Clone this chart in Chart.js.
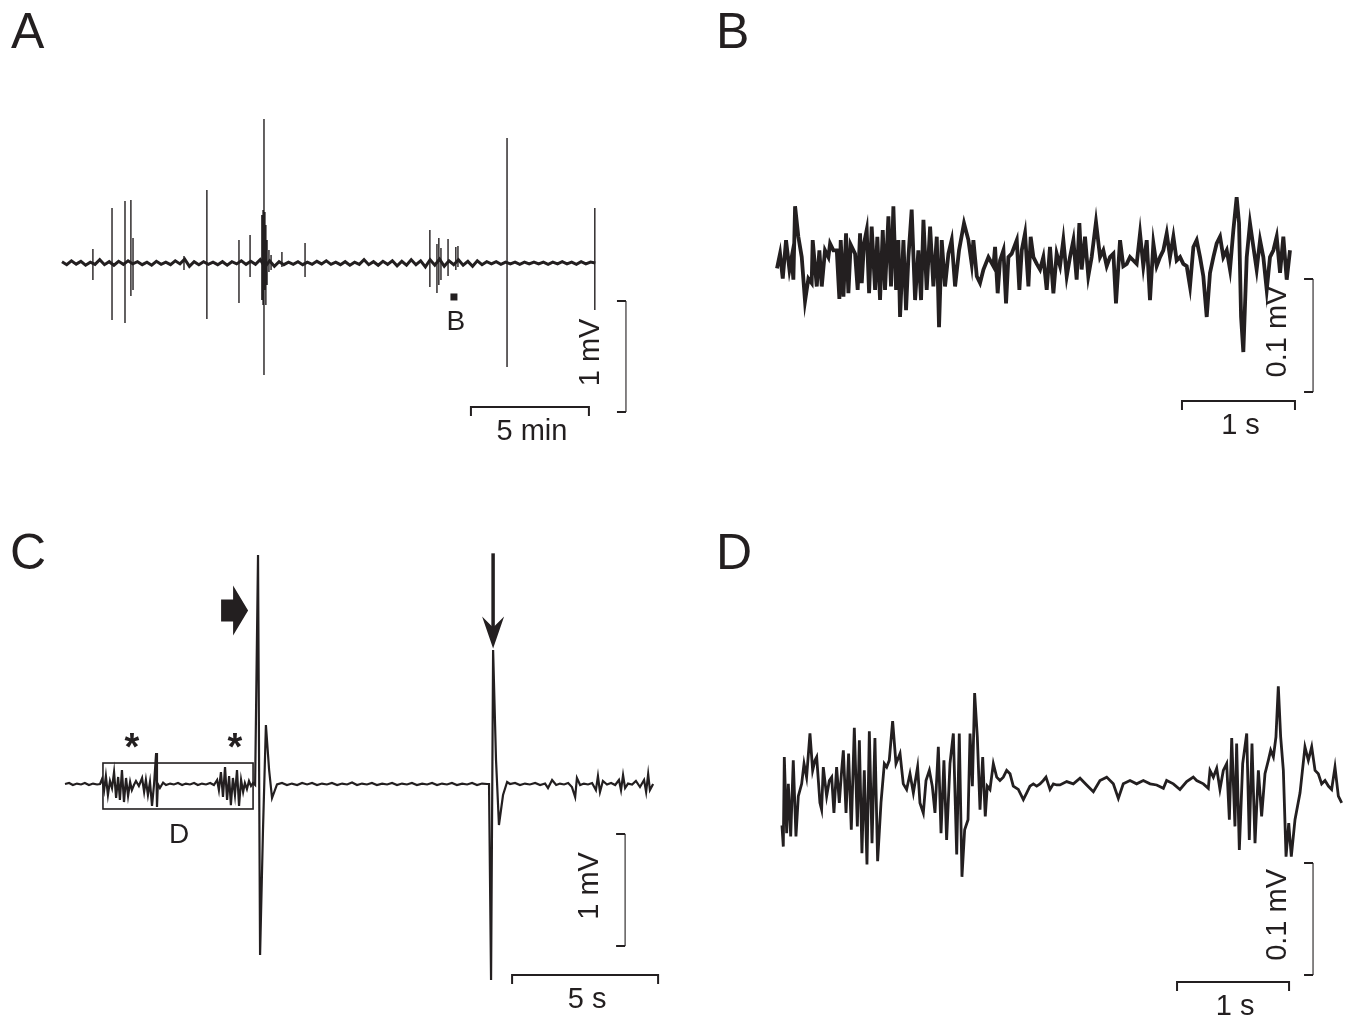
<!DOCTYPE html>
<html>
<head>
<meta charset="utf-8">
<script src="https://cdn.jsdelivr.net/npm/chart.js@4.4.1/dist/chart.umd.min.js"></script>
<style>
html,body{margin:0;padding:0;background:#fff;}
#fig{position:relative;width:1350px;height:1024px;overflow:hidden;background:#fff;font-family:"Liberation Sans",Arial,sans-serif;color:#231f20;}
#fig canvas{position:absolute;}
.letter{position:absolute;font-size:50px;line-height:50px;}
</style>
</head>
<body>
<div id="fig">
  <canvas id="cA" width="640" height="370" style="left:40px;top:90px"></canvas>
  <canvas id="cB" width="590" height="270" style="left:760px;top:180px"></canvas>
  <canvas id="cC" width="640" height="484" style="left:40px;top:540px"></canvas>
  <canvas id="cD" width="590" height="374" style="left:760px;top:650px"></canvas>
  <div class="letter" style="left:11px;top:6px">A</div>
  <div class="letter" style="left:716px;top:6px">B</div>
  <div class="letter" style="left:10px;top:527px">C</div>
  <div class="letter" style="left:716px;top:527px">D</div>
</div>
<script>
// ---------------- DATA ----------------
// Panel A: long recording (time in min, voltage in mV)
const aNoiseStep = 0.2; // min between baseline samples
const aNoise = [0.012,-0.015,0.02,-0.01,0.015,-0.02,0.008,-0.012,0.03,-0.015,
 0.012,-0.02,0.015,-0.012,0.02,-0.008,0.012,-0.015,0.008,-0.02,
 0.015,-0.012,0.008,-0.015,0.02,-0.008,0.035,-0.03,0.012,-0.015,
 0.012,-0.012,0.008,-0.015,0.012,-0.02,0.012,-0.008,0.02,-0.012,
 0.015,-0.012,0.03,-0.035,0.02,-0.03,0.012,-0.015,0.008,-0.012,
 0.012,-0.015,0.008,-0.012,0.015,-0.008,0.02,-0.012,0.008,-0.015,
 0.012,-0.02,0.008,-0.012,0.03,-0.015,0.012,-0.02,0.015,-0.012,
 0.02,-0.025,0.015,-0.02,0.03,-0.015,0.02,-0.035,0.03,-0.02,
 0.035,-0.03,0.02,-0.015,0.03,-0.02,0.015,-0.03,0.02,-0.015,
 0.012,-0.008,0.012,-0.012,0.008,-0.008,0.008,-0.012,0.008,-0.008,
 0.008,-0.008,0.008,-0.012,0.008,-0.008,0.012,-0.008,0.008,-0.012,0.012,-0.008,0.008,0.0];
const aSpikeT  = [1.31,2.12,2.67,2.92,3.01,5.17,6.14,7.50,7.97,8.47,8.52,8.56,8.60,8.64,8.69,8.77,8.86,9.32,10.30,15.59,15.89,15.97,16.06,16.36,16.69,16.78,18.86,22.58];
const aSpikeHi = [.126,.495,.559,.568,.225,.063,.658,.207,.252,.432,.477,1.297,.459,.342,.207,.117,.072,.099,.180,.297,.171,.225,.135,.216,.144,.153,1.126,.495];
const aSpikeLo = [-.153,-.514,-.541,-.297,-.243,-.063,-.505,-.360,-.126,-.333,-.378,-1.009,-.243,-.378,-.198,-.081,-.063,-.036,-.126,-.216,-.270,-.198,-.153,-.117,-.063,-.036,-.937,-.423];
const aMarkB = [16.61, -0.306]; // segment shown in B

// Panel B: 4.5 s excerpt (time in ms, voltage in µV)
const bT = [0,27,51,80,110,130,145,160,189,219,248,278,307,316,352,375,396,425,455,470,
 499,529,552,564,588,611,632,652,691,714,735,750,770,794,815,838,868,888,912,936,
 956,986,1009,1030,1054,1074,1089,1119,1142,1163,1192,1222,1251,1275,1296,1325,1355,1384,1414,1434,
 1458,1487,1517,1546,1576,1611,1655,1694,1723,1738,1768,1797,1827,1871,1915,1930,1953,1974,2004,2027,
 2048,2077,2122,2145,2166,2195,2225,2245,2269,2299,
 2328,2357,2387,2416,2446,2475,2505,2534,2564,2593,2623,2652,2676,2696,2726,2755,2785,2823,2859,2888,
 2918,2947,2977,3000,3036,3065,3095,3124,3154,3183,3213,3242,3272,3301,3331,3360,3390,3419,3449,3478,
 3508,3537,3567,3596,3626,3655,3685,3714,3744,3773,3803,3832,3862,3891,3921,3950,3980,4009,4039,4068,
 4089,4107,4127,4157,4186,4216,4245,4275,4304,4334,4363,4393,4422,4452,4481,4511,4540];
const bV = [-3,10,-12,22,-4,7,-13,52,25,7,-32,-12,-16,22,-19,13,-19,13,7,19,
 13,13,-30,22,-28,28,-25,18,10,-22,28,-16,19,31,-25,34,-22,25,-31,31,
 -22,43,-19,52,-22,22,-46,22,-40,7,49,-31,13,-31,40,-22,34,-19,25,-55,
 22,-19,10,22,-19,13,37,22,1,22,-10,-16,-4,7,-1,16,-25,4,13,-34,
 7,10,22,-22,13,28,-19,25,7,1,
 -4,7,-22,16,-25,10,-1,22,-10,7,22,-13,37,-4,25,-10,7,38,7,13,
 -1,7,10,-34,22,-1,1,7,4,1,28,-1,22,-31,19,-1,7,13,28,7,
 25,4,7,1,-1,-19,16,22,7,-10,-46,-7,7,19,25,7,13,-4,31,60,
 37,-46,-77,7,37,16,-4,22,7,-22,7,13,25,-7,25,-13,13];

// Panel C: 20 s excerpt (time in s, voltage in mV)
const cT = [0,0.14,0.27,0.41,0.55,0.68,0.82,0.96,1.10,1.20,
 1.27,1.34,1.40,1.47,1.54,1.61,1.68,1.75,1.82,1.88,
 1.95,2.02,2.09,2.16,2.23,2.29,2.36,2.43,2.53,2.64,
 2.71,2.77,2.84,2.91,2.98,3.05,3.12,3.15,3.18,3.25,
 3.36,3.46,3.60,3.73,3.87,4.01,4.14,4.28,4.42,4.55,
 4.69,4.83,4.97,5.10,5.21,5.27,5.34,5.41,5.48,5.55,
 5.62,5.68,5.75,5.82,5.89,5.96,6.03,6.10,6.16,6.23,
 6.30,6.37,6.44,6.51,6.61,6.68,6.78,6.88,6.99,7.09,
 7.26,7.43,7.60,7.77,7.95,8.12,8.29,8.46,8.63,8.80,
 8.97,9.14,9.32,9.49,9.66,9.83,10.00,10.17,10.34,10.51,
 10.68,10.86,11.03,11.20,11.37,11.54,11.71,11.88,12.05,12.23,
 12.40,12.57,12.74,12.91,13.08,13.25,13.42,13.60,13.77,13.94,
 14.11,14.28,14.45,14.52,14.59,14.66,14.76,14.86,15.00,15.14,
 15.24,15.41,15.58,15.75,15.92,16.10,16.27,16.44,16.54,16.68,
 16.82,16.95,17.09,17.23,17.36,17.47,17.53,17.64,17.77,17.91,
 18.05,18.18,18.25,18.32,18.42,18.56,18.70,18.84,18.97,19.04,
 19.11,19.18,19.28,19.42,19.55,19.69,19.83,19.90,19.97,20.03,
 20.14];
const cV = [0,.009,-.009,.004,-.004,.009,-.009,.004,-.004,0,
 .045,-.054,.071,-.098,.027,-.036,.107,-.125,.063,-.143,
 .125,-.161,.054,-.107,.018,-.054,-.009,.027,-.018,.054,
 -.071,.036,-.098,.018,-.196,0,.277,-.205,0,-.036,
 .013,-.009,.004,-.004,.009,-.009,.004,-.004,.009,-.009,
 .004,-.004,.009,-.009,.036,-.054,.107,-.116,.152,-.143,
 .071,-.188,.054,-.098,.125,-.196,.036,-.071,.009,-.045,
 .027,-.018,.009,-.009,2.045,-1.527,-.411,.527,.125,-.125,
 -.004,.009,-.009,.004,-.009,.009,-.004,.009,-.009,.004,
 -.004,.009,-.009,.004,-.004,.013,-.009,.004,-.004,.009,
 -.009,.004,-.004,.009,-.009,.004,-.004,.009,-.009,.004,
 -.004,.009,-.009,.004,-.004,.009,-.009,.004,-.004,.009,
 -.009,.004,0,0,-1.75,1.196,.214,-.366,-.098,.018,
 0,.009,-.009,.004,-.004,.009,-.009,.004,-.036,.036,
 -.009,.004,-.004,.009,-.027,-.116,.054,-.009,.004,-.004,
 .009,-.054,.071,-.071,.027,-.004,.009,-.009,.036,-.054,
 .080,-.036,.004,-.004,.027,-.027,.036,-.071,.089,-.054,
 0];
const cBox = [1.30, 6.44, 0.1875, -0.223];   // window expanded in D (t0,t1,vTop,vBottom)
const cStars = [2.29, 5.82];                  // bursts marked with *
const cBlockArrow = [6.27, 1.55];             // tip of the block arrow
const cDownArrow = [14.66, 2.06, 1.21];       // t, top, tip

// Panel D: 5 s excerpt (time in ms, voltage in µV)
const dT = [0,12,21,42,57,78,101,125,146,176,197,220,250,274,295,310,339,354,369,399,
 423,444,464,488,512,533,548,572,595,619,646,673,691,714,735,759,780,804,830,854,
 884,914,935,958,988,1018,1054,1083,1113,1143,1173,1211,1232,1262,1286,1316,1342,1366,1396,1420,
 1446,1470,1500,1530,1560,1583,1607,1631,1661,1679,1700,1720,1744,1768,1792,1815,1833,1857,1887,1917,
 1946,1976,2006,2036,2065,2110,2155,2185,2214,2244,2274,2304,2333,2357,2393,2423,2452,
 2482,2542,2601,2661,2720,2780,2839,2899,2958,3003,3047,3107,3166,3226,3286,3345,3405,3434,3494,3553,
 3613,3672,3702,3762,3806,3821,3851,3881,3910,3940,3970,3994,4015,4044,4059,4083,4113,4149,4172,4196,
 4223,4253,4282,4312,4342,4363,4387,4410,4431,4452,4476,4500,4524,4547,4580,4625,4669,4699,4729,4759,
 4788,4818,4848,4878,4907,4937,4967,4997];
const dV = [-36,-55,25,-43,1,-46,22,-46,-10,1,19,7,46,13,22,25,-16,-22,16,-10,
 4,7,-25,16,-16,13,31,-25,28,-40,51,-37,40,-61,13,-71,48,-52,42,-68,
 -16,19,16,22,57,19,28,1,-4,10,-7,16,-16,-25,4,13,-1,-25,34,-43,
 22,-49,19,46,-62,46,-82,-40,-31,46,-1,82,43,-22,25,-28,-1,-4,19,7,
 4,7,13,10,-1,-4,-13,-7,-1,1,-1,1,4,7,-4,1,0,
 0,3,1,6,0,-6,4,7,1,-12,1,4,1,4,1,0,-3,4,1,-4,
 3,7,4,1,-3,13,7,15,-4,13,19,-31,42,-37,37,-58,19,46,-49,37,
 -52,13,-28,10,22,31,25,43,88,43,13,-64,-34,-64,-31,-7,34,22,34,13,
 10,1,4,-1,-4,16,-10,-16];

// Scale bars: horizontal [from, to, at], vertical [from, to, at]
const aBars = {h:[17.33,22.33,-1.297], v:[-0.342,-1.342,23.90], hLabel:'5 min', vLabel:'1 mV'};
const bBars = {h:[3584,4584,-120.4], v:[-12.4,-112.4,4744], hLabel:'1 s', vLabel:'0.1 mV'};
const cBars = {h:[15.31,20.31,-1.705], v:[-0.446,-1.446,19.18], hLabel:'5 s', vLabel:'1 mV'};
const dBars = {h:[3527,4527,-175.9], v:[-69.6,-169.6,4741], hLabel:'1 s', vLabel:'0.1 mV'};

// ---------------- DRAWING ----------------
const INK = '#231f20';
const FONT = '29px "Liberation Sans", Arial, sans-serif';

function pairs(xs, ys){ return xs.map((x,i)=>({x:x, y:ys[i]})); }

function drawBars(ctx, X, Y, b){
  ctx.save();
  ctx.strokeStyle = INK; ctx.fillStyle = INK;
  const hx0 = X(b.h[0]), hx1 = X(b.h[1]), hy = Y(b.h[2]);
  ctx.lineWidth = 2;
  ctx.beginPath(); ctx.moveTo(hx0, hy+9); ctx.lineTo(hx0, hy); ctx.lineTo(hx1, hy); ctx.lineTo(hx1, hy+9); ctx.stroke();
  const vy0 = Y(b.v[0]), vy1 = Y(b.v[1]), vx = X(b.v[2]);
  ctx.lineWidth = 2;
  ctx.beginPath(); ctx.moveTo(vx-9, vy0); ctx.lineTo(vx, vy0); ctx.moveTo(vx-9, vy1); ctx.lineTo(vx, vy1); ctx.stroke();
  ctx.lineWidth = 1.1;
  ctx.beginPath(); ctx.moveTo(vx, vy0); ctx.lineTo(vx, vy1); ctx.stroke();
  ctx.font = FONT; ctx.textAlign = 'center'; ctx.textBaseline = 'alphabetic';
  ctx.fillText(b.hLabel, (hx0+hx1)/2 + 2, hy + 33);
  ctx.translate(vx - 27, (vy0+vy1)/2 - 4); ctx.rotate(-Math.PI/2);
  ctx.fillText(b.vLabel, 0, 0);
  ctx.restore();
}

function overlay(fn){
  return { id:'overlay', afterDatasetsDraw(chart){
    const ctx = chart.ctx, sx = chart.scales.x, sy = chart.scales.y;
    fn(ctx, v=>sx.getPixelForValue(v), v=>sy.getPixelForValue(v));
  }};
}

function makeChart(id, datasets, xr, yr, plugin){
  return new Chart(document.getElementById(id), {
    type:'line',
    data:{datasets: datasets.map(d=>Object.assign({borderColor:INK, pointRadius:0, fill:false, spanGaps:false, tension:0, borderJoinStyle:'miter'}, d))},
    options:{
      responsive:false, animation:false, events:[],
      layout:{padding:0},
      plugins:{legend:{display:false}, tooltip:{enabled:false}},
      scales:{
        x:{type:'linear', display:false, min:xr[0], max:xr[1], bounds:'data'},
        y:{type:'linear', display:false, min:yr[0], max:yr[1], bounds:'data'}
      }
    },
    plugins:[plugin]
  });
}

// Panel A
const aBase = aNoise.map((v,i)=>({x:+(i*aNoiseStep).toFixed(2), y:v}));
const aSp = [];
aSpikeT.forEach((t,i)=>{ aSp.push({x:t,y:aSpikeHi[i]},{x:t,y:aSpikeLo[i]},{x:t,y:null}); });
makeChart('cA', [{data:aBase, borderWidth:3}, {data:aSp, borderWidth:1.4}], [-0.932,26.19], [-1.775,1.559],
  overlay((ctx,X,Y)=>{
    drawBars(ctx,X,Y,aBars);
    ctx.save(); ctx.fillStyle = INK;
    const mx = X(aMarkB[0]), my = Y(aMarkB[1]);
    ctx.fillRect(mx-3.5, my-3.5, 7, 7);
    ctx.font = '28px "Liberation Sans", Arial, sans-serif'; ctx.textAlign='center';
    ctx.fillText('B', mx+2, my+33);
    ctx.restore();
  }));

// Panel B
makeChart('cB', [{data:pairs(bT,bV), borderWidth:3.8}], [-150.4,5071], [-163.7,75.2],
  overlay((ctx,X,Y)=>drawBars(ctx,X,Y,bBars)));

// Panel C
makeChart('cC', [{data:pairs(cT,cV), borderWidth:2.2}], [-0.856,21.06], [-2.143,2.179],
  overlay((ctx,X,Y)=>{
    drawBars(ctx,X,Y,cBars);
    ctx.save(); ctx.strokeStyle = INK; ctx.fillStyle = INK;
    const bx0 = X(cBox[0]), bx1 = X(cBox[1]), by0 = Y(cBox[2]), by1 = Y(cBox[3]);
    ctx.lineWidth = 1.6; ctx.strokeRect(bx0, by0, bx1-bx0, by1-by0);
    ctx.font = '28px "Liberation Sans", Arial, sans-serif'; ctx.textAlign='center';
    ctx.fillText('D', (bx0+bx1)/2 + 1, by1 + 34);
    ctx.font = 'bold 38px "Liberation Sans", Arial, sans-serif';
    cStars.forEach(t=>ctx.fillText('*', X(t), by0 - 3));
    const tx = X(cBlockArrow[0]), ty = Y(cBlockArrow[1]);
    ctx.beginPath();
    ctx.moveTo(tx-27, ty-11); ctx.lineTo(tx-15, ty-11); ctx.lineTo(tx-15, ty-25); ctx.lineTo(tx, ty);
    ctx.lineTo(tx-15, ty+25); ctx.lineTo(tx-15, ty+11); ctx.lineTo(tx-27, ty+11); ctx.closePath(); ctx.fill();
    const ax = X(cDownArrow[0]), ayTop = Y(cDownArrow[1]), ayTip = Y(cDownArrow[2]);
    ctx.lineWidth = 3.5; ctx.beginPath(); ctx.moveTo(ax, ayTop); ctx.lineTo(ax, ayTip-20); ctx.stroke();
    ctx.beginPath(); ctx.moveTo(ax, ayTip); ctx.lineTo(ax-11, ayTip-32); ctx.lineTo(ax, ayTip-21); ctx.lineTo(ax+11, ayTip-32); ctx.closePath(); ctx.fill();
    ctx.restore();
  }));

// Panel D
makeChart('cD', [{data:pairs(dT,dV), borderWidth:2.8}], [-196,5071], [-213.4,120.5],
  overlay((ctx,X,Y)=>drawBars(ctx,X,Y,dBars)));
</script>
</body>
</html>
